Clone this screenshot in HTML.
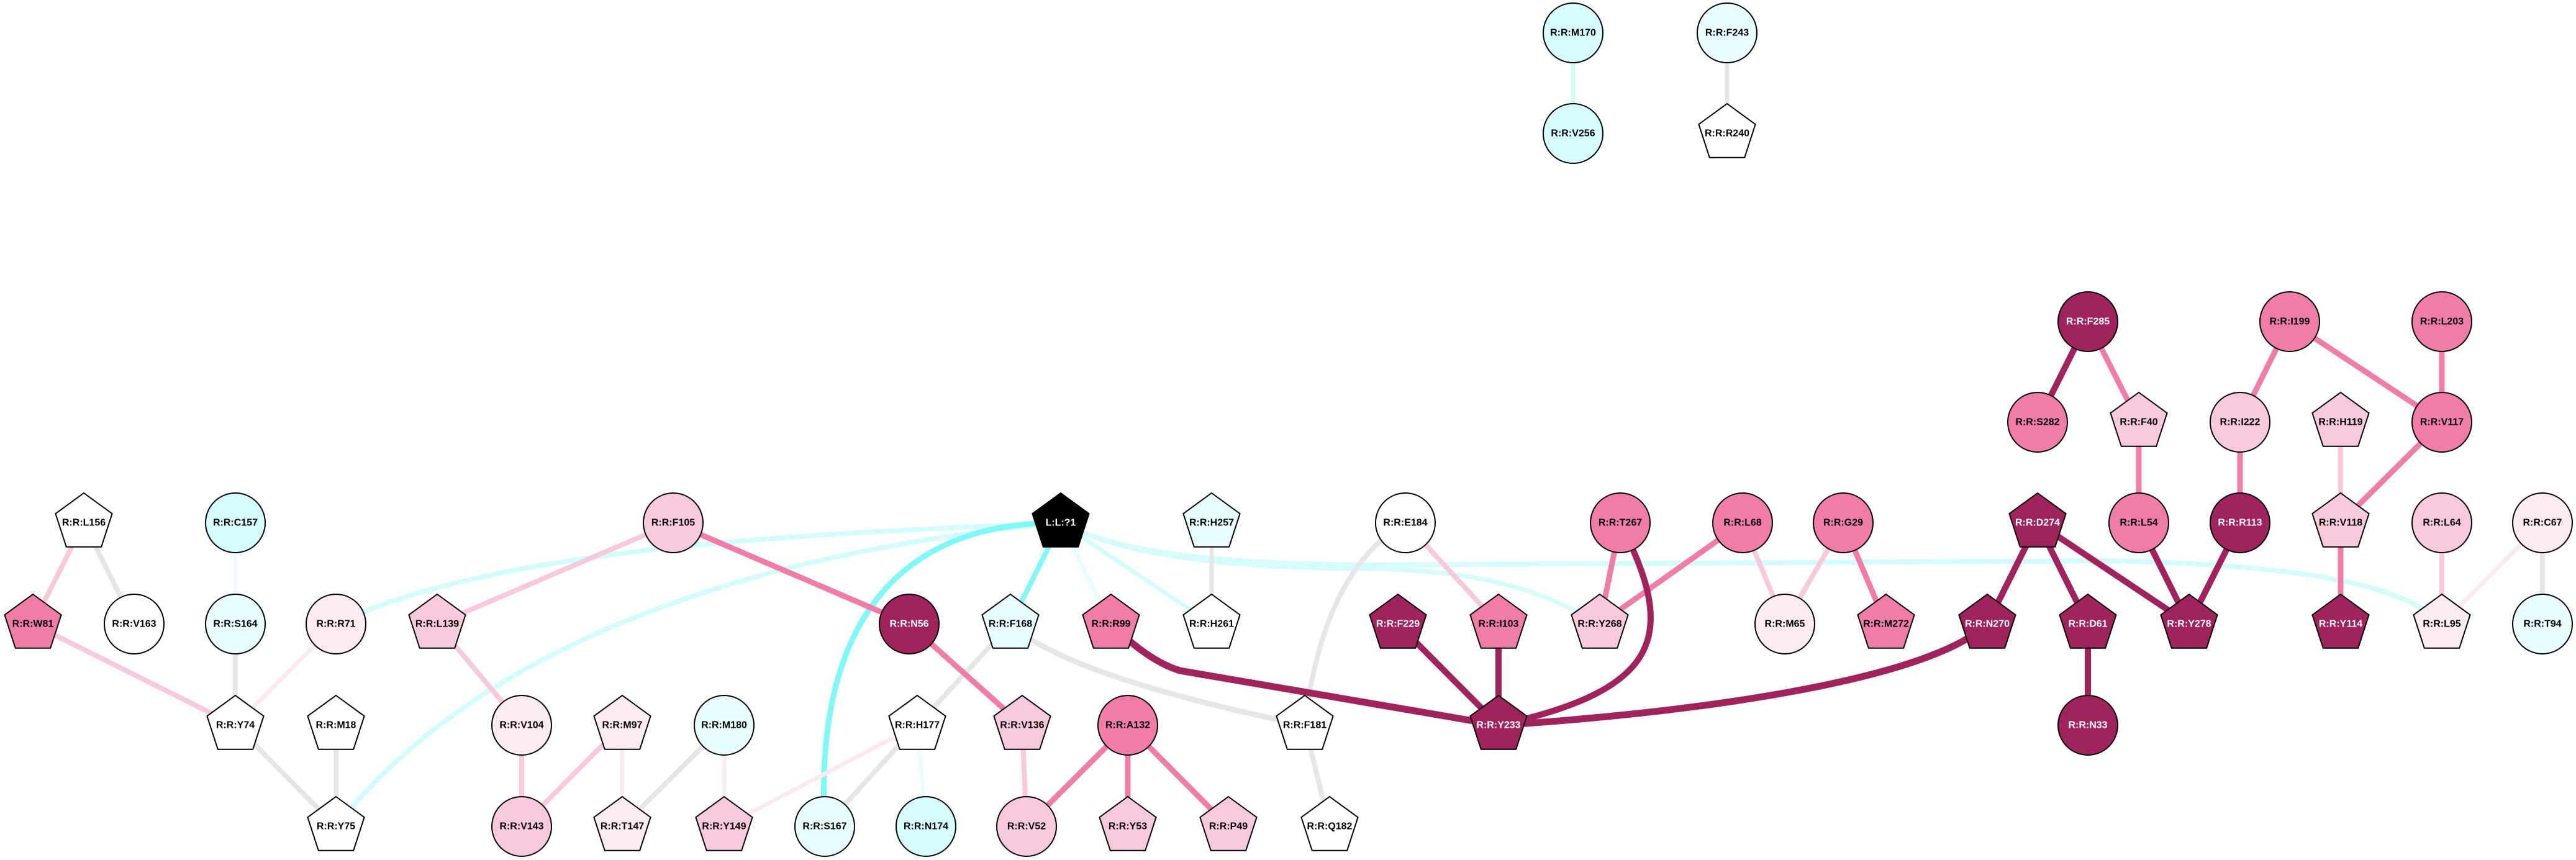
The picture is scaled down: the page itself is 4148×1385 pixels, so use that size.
<!DOCTYPE html>
<html><head><meta charset="utf-8"><style>
html,body{margin:0;padding:0;background:#fff;}
svg{display:block;}
text{font-family:"Liberation Sans",Arial,sans-serif;font-weight:bold;font-size:16px;text-anchor:middle;dominant-baseline:central;}
</style></head><body>
<svg width="4148" height="1385" viewBox="0 0 4148 1385" xmlns="http://www.w3.org/2000/svg">
<defs>
<polygon id="p" points="0,-48 45.6,-14.8 28.2,38.8 -28.2,38.8 -45.6,-14.8" stroke="#000" stroke-width="2"/>
</defs>
<g fill="none" stroke-linecap="butt">
<!-- top -->
<line x1="2533" y1="53" x2="2533" y2="215" stroke="#d4fcfc" stroke-width="7"/>
<line x1="2781" y1="53" x2="2781" y2="215" stroke="#e6e6e6" stroke-width="7"/>
<!-- cyan curves from ligand -->
<path d="M1708,842 C1300,860 800,880 541,1005" stroke="#d4fcfc" stroke-width="8"/>
<path d="M1708,842 C1300,880 800,1000 541,1331" stroke="#d4fcfc" stroke-width="8"/>
<path d="M1708,842 C1800,890 1950,908 2200,910 L3400,903 C3700,910 3870,940 3932,1005" stroke="#d4fcfc" stroke-width="8"/>
<path d="M1708,842 C1800,890 1950,915 2200,916 C2400,917 2500,960 2576,1005" stroke="#d4fcfc" stroke-width="7"/>
<path d="M1708,842 C1450,840 1310,1000 1328,1331" stroke="#80f8f8" stroke-width="9"/>
<line x1="1708" y1="842" x2="1627" y2="1005" stroke="#80f8f8" stroke-width="8"/>
<line x1="1708" y1="842" x2="1789" y2="1005" stroke="#e8fdfd" stroke-width="7"/>
<line x1="1708" y1="842" x2="1951" y2="1005" stroke="#d4fcfc" stroke-width="7"/>
<!-- left cluster -->
<line x1="135" y1="842" x2="53" y2="1005" stroke="#f8c8dc" stroke-width="8"/>
<line x1="135" y1="842" x2="216" y2="1005" stroke="#e6e6e6" stroke-width="8"/>
<line x1="379" y1="842" x2="379" y2="1005" stroke="#e8fdfd" stroke-width="5"/>
<line x1="53" y1="1005" x2="379" y2="1168" stroke="#f8c8dc" stroke-width="8"/>
<line x1="379" y1="1005" x2="379" y2="1168" stroke="#e6e6e6" stroke-width="8"/>
<line x1="541" y1="1005" x2="379" y2="1168" stroke="#fbe9f1" stroke-width="7"/>
<line x1="379" y1="1168" x2="541" y2="1331" stroke="#e6e6e6" stroke-width="8"/>
<line x1="541" y1="1168" x2="541" y2="1331" stroke="#e6e6e6" stroke-width="8"/>
<line x1="1084" y1="842" x2="704" y2="1005" stroke="#f8c8dc" stroke-width="8"/>
<line x1="704" y1="1005" x2="840" y2="1168" stroke="#f8c8dc" stroke-width="8"/>
<line x1="840" y1="1168" x2="840" y2="1331" stroke="#f8c8dc" stroke-width="8"/>
<line x1="1002" y1="1168" x2="840" y2="1331" stroke="#f8c8dc" stroke-width="8"/>
<line x1="1002" y1="1168" x2="1002" y2="1331" stroke="#fbe9f1" stroke-width="7"/>
<line x1="1166" y1="1168" x2="1002" y2="1331" stroke="#e6e6e6" stroke-width="8"/>
<line x1="1166" y1="1168" x2="1166" y2="1331" stroke="#fbe9f1" stroke-width="7"/>
<line x1="1477" y1="1168" x2="1166" y2="1331" stroke="#fbe9f1" stroke-width="7"/>
<line x1="1477" y1="1168" x2="1328" y2="1331" stroke="#e6e6e6" stroke-width="8"/>
<line x1="1477" y1="1168" x2="1491" y2="1331" stroke="#e8fdfd" stroke-width="6"/>
<line x1="1627" y1="1005" x2="1477" y2="1168" stroke="#e6e6e6" stroke-width="8"/>
<line x1="1084" y1="842" x2="1464" y2="1005" stroke="#f07ca8" stroke-width="9"/>
<line x1="1464" y1="1005" x2="1646" y2="1168" stroke="#f07ca8" stroke-width="9"/>
<line x1="1646" y1="1168" x2="1653" y2="1331" stroke="#f8c8dc" stroke-width="8"/>
<line x1="1816" y1="1168" x2="1653" y2="1331" stroke="#f07ca8" stroke-width="9"/>
<line x1="1816" y1="1168" x2="1816" y2="1331" stroke="#f07ca8" stroke-width="9"/>
<line x1="1816" y1="1168" x2="1978" y2="1331" stroke="#f07ca8" stroke-width="9"/>
<path d="M1627,1005 Q1720,1090 2101,1168" stroke="#e6e6e6" stroke-width="9"/>
<path d="M2263,842 Q2130,920 2101,1168" stroke="#e6e6e6" stroke-width="8"/>
<line x1="2101" y1="1168" x2="2141" y2="1331" stroke="#e6e6e6" stroke-width="8"/>
<line x1="1951" y1="842" x2="1951" y2="1005" stroke="#e6e6e6" stroke-width="7"/>
<!-- middle -->
<line x1="2263" y1="842" x2="2413" y2="1005" stroke="#f8c8dc" stroke-width="8"/>
<line x1="2609" y1="842" x2="2576" y2="1005" stroke="#f07ca8" stroke-width="9"/>
<line x1="2806" y1="842" x2="2576" y2="1005" stroke="#f07ca8" stroke-width="9"/>
<line x1="2806" y1="842" x2="2874" y2="1005" stroke="#f8c8dc" stroke-width="8"/>
<line x1="2968" y1="842" x2="2874" y2="1005" stroke="#f8c8dc" stroke-width="8"/>
<line x1="2968" y1="842" x2="3037" y2="1005" stroke="#f07ca8" stroke-width="9"/>
<path d="M1789,1005 Q1850,1065 1900,1080 L2413,1168" stroke="#a1235e" stroke-width="11"/>
<line x1="2251" y1="1005" x2="2413" y2="1168" stroke="#a1235e" stroke-width="10"/>
<line x1="2413" y1="1005" x2="2413" y2="1168" stroke="#a1235e" stroke-width="10"/>
<path d="M2609,842 C2700,1020 2680,1110 2413,1168" stroke="#a1235e" stroke-width="10"/>
<path d="M3200,1005 C3100,1100 2700,1150 2413,1168" stroke="#a1235e" stroke-width="11"/>
<!-- right -->
<line x1="3362" y1="518" x2="3281" y2="680" stroke="#a1235e" stroke-width="10"/>
<line x1="3362" y1="518" x2="3444" y2="680" stroke="#f07ca8" stroke-width="9"/>
<line x1="3444" y1="680" x2="3444" y2="842" stroke="#f07ca8" stroke-width="9"/>
<line x1="3687" y1="518" x2="3607" y2="680" stroke="#f07ca8" stroke-width="9"/>
<line x1="3687" y1="518" x2="3932" y2="680" stroke="#f07ca8" stroke-width="9"/>
<line x1="3932" y1="518" x2="3932" y2="680" stroke="#f07ca8" stroke-width="9"/>
<line x1="3607" y1="680" x2="3607" y2="842" stroke="#f07ca8" stroke-width="9"/>
<line x1="3769" y1="680" x2="3769" y2="842" stroke="#f8c8dc" stroke-width="8"/>
<line x1="3932" y1="680" x2="3769" y2="842" stroke="#f07ca8" stroke-width="9"/>
<line x1="3769" y1="842" x2="3769" y2="1005" stroke="#f07ca8" stroke-width="9"/>
<line x1="3281" y1="842" x2="3200" y2="1005" stroke="#a1235e" stroke-width="10"/>
<line x1="3281" y1="842" x2="3362" y2="1005" stroke="#a1235e" stroke-width="10"/>
<line x1="3281" y1="842" x2="3525" y2="1005" stroke="#a1235e" stroke-width="10"/>
<line x1="3444" y1="842" x2="3525" y2="1005" stroke="#a1235e" stroke-width="10"/>
<line x1="3607" y1="842" x2="3525" y2="1005" stroke="#a1235e" stroke-width="10"/>
<line x1="3362" y1="1005" x2="3362" y2="1168" stroke="#a1235e" stroke-width="10"/>
<line x1="3932" y1="842" x2="3932" y2="1005" stroke="#f8c8dc" stroke-width="8"/>
<line x1="4094" y1="842" x2="3932" y2="1005" stroke="#fbe9f1" stroke-width="7"/>
<line x1="4094" y1="842" x2="4094" y2="1005" stroke="#e6e6e6" stroke-width="8"/>
</g>
<g stroke="#000" stroke-width="2">
<!-- circles -->
<circle cx="2533" cy="53" r="48" fill="#d4fcfc"/>
<circle cx="2533" cy="215" r="48" fill="#d4fcfc"/>
<circle cx="2781" cy="53" r="48" fill="#e8fdfd"/>
<circle cx="379" cy="842" r="48" fill="#d4fcfc"/>
<circle cx="216" cy="1005" r="48" fill="#fff"/>
<circle cx="379" cy="1005" r="48" fill="#e8fdfd"/>
<circle cx="541" cy="1005" r="48" fill="#fbeaf2"/>
<circle cx="840" cy="1168" r="48" fill="#fbeaf2"/>
<circle cx="840" cy="1331" r="48" fill="#f8c8dc"/>
<circle cx="1084" cy="842" r="48" fill="#f8c8dc"/>
<circle cx="1464" cy="1005" r="48" fill="#a1235e"/>
<circle cx="1166" cy="1168" r="48" fill="#e8fdfd"/>
<circle cx="1816" cy="1168" r="48" fill="#f07ca8"/>
<circle cx="1328" cy="1331" r="48" fill="#e8fdfd"/>
<circle cx="1491" cy="1331" r="48" fill="#d4fcfc"/>
<circle cx="1653" cy="1331" r="48" fill="#f8c8dc"/>
<circle cx="2263" cy="842" r="48" fill="#fff"/>
<circle cx="2609" cy="842" r="48" fill="#f07ca8"/>
<circle cx="2806" cy="842" r="48" fill="#f07ca8"/>
<circle cx="2968" cy="842" r="48" fill="#f07ca8"/>
<circle cx="2874" cy="1005" r="48" fill="#fbeaf2"/>
<circle cx="3362" cy="518" r="48" fill="#a1235e"/>
<circle cx="3687" cy="518" r="48" fill="#f07ca8"/>
<circle cx="3932" cy="518" r="48" fill="#f07ca8"/>
<circle cx="3281" cy="680" r="48" fill="#f07ca8"/>
<circle cx="3607" cy="680" r="48" fill="#f8c8dc"/>
<circle cx="3932" cy="680" r="48" fill="#f07ca8"/>
<circle cx="3444" cy="842" r="48" fill="#f07ca8"/>
<circle cx="3607" cy="842" r="48" fill="#a1235e"/>
<circle cx="3932" cy="842" r="48" fill="#f8c8dc"/>
<circle cx="4094" cy="842" r="48" fill="#fbeaf2"/>
<circle cx="4094" cy="1005" r="48" fill="#e8fdfd"/>
<circle cx="3362" cy="1168" r="48" fill="#a1235e"/>
</g>
<!-- pentagons -->
<use href="#p" x="2781" y="215" fill="#fff"/>
<use href="#p" x="135" y="842" fill="#fff"/>
<use href="#p" x="53" y="1005" fill="#f07ca8"/>
<use href="#p" x="704" y="1005" fill="#f8c8dc"/>
<use href="#p" x="379" y="1168" fill="#fff"/>
<use href="#p" x="541" y="1168" fill="#fff"/>
<use href="#p" x="541" y="1331" fill="#fff"/>
<use href="#p" x="1002" y="1168" fill="#fbeaf2"/>
<use href="#p" x="1002" y="1331" fill="#fbeaf2"/>
<use href="#p" x="1708" y="842" fill="#000"/>
<use href="#p" x="1951" y="842" fill="#e8fdfd"/>
<use href="#p" x="1627" y="1005" fill="#e8fdfd"/>
<use href="#p" x="1789" y="1005" fill="#f07ca8"/>
<use href="#p" x="1951" y="1005" fill="#fff"/>
<use href="#p" x="1477" y="1168" fill="#fff"/>
<use href="#p" x="1646" y="1168" fill="#f8c8dc"/>
<use href="#p" x="2101" y="1168" fill="#fff"/>
<use href="#p" x="1166" y="1331" fill="#f8c8dc"/>
<use href="#p" x="1816" y="1331" fill="#f8c8dc"/>
<use href="#p" x="1978" y="1331" fill="#f8c8dc"/>
<use href="#p" x="2141" y="1331" fill="#fff"/>
<use href="#p" x="2251" y="1005" fill="#a1235e"/>
<use href="#p" x="2413" y="1005" fill="#f07ca8"/>
<use href="#p" x="2576" y="1005" fill="#f8c8dc"/>
<use href="#p" x="3037" y="1005" fill="#f07ca8"/>
<use href="#p" x="2413" y="1168" fill="#a1235e"/>
<use href="#p" x="3444" y="680" fill="#f8c8dc"/>
<use href="#p" x="3769" y="680" fill="#f8c8dc"/>
<use href="#p" x="3281" y="842" fill="#a1235e"/>
<use href="#p" x="3769" y="842" fill="#f8c8dc"/>
<use href="#p" x="3200" y="1005" fill="#a1235e"/>
<use href="#p" x="3362" y="1005" fill="#a1235e"/>
<use href="#p" x="3525" y="1005" fill="#a1235e"/>
<use href="#p" x="3769" y="1005" fill="#a1235e"/>
<use href="#p" x="3932" y="1005" fill="#fbeaf2"/>
<g fill="#000">
<text x="2533" y="53">R:R:M170</text>
<text x="2533" y="215">R:R:V256</text>
<text x="2781" y="53">R:R:F243</text>
<text x="2781" y="215">R:R:R240</text>
<text x="135" y="842">R:R:L156</text>
<text x="379" y="842">R:R:C157</text>
<text x="53" y="1005">R:R:W81</text>
<text x="216" y="1005">R:R:V163</text>
<text x="379" y="1005">R:R:S164</text>
<text x="541" y="1005">R:R:R71</text>
<text x="704" y="1005">R:R:L139</text>
<text x="379" y="1168">R:R:Y74</text>
<text x="541" y="1168">R:R:M18</text>
<text x="541" y="1331">R:R:Y75</text>
<text x="840" y="1168">R:R:V104</text>
<text x="1002" y="1168">R:R:M97</text>
<text x="840" y="1331">R:R:V143</text>
<text x="1002" y="1331">R:R:T147</text>
<text x="1084" y="842">R:R:F105</text>
<text x="1951" y="842">R:R:H257</text>
<text x="1627" y="1005">R:R:F168</text>
<text x="1789" y="1005">R:R:R99</text>
<text x="1951" y="1005">R:R:H261</text>
<text x="1166" y="1168">R:R:M180</text>
<text x="1477" y="1168">R:R:H177</text>
<text x="1646" y="1168">R:R:V136</text>
<text x="1816" y="1168">R:R:A132</text>
<text x="2101" y="1168">R:R:F181</text>
<text x="1166" y="1331">R:R:Y149</text>
<text x="1328" y="1331">R:R:S167</text>
<text x="1491" y="1331">R:R:N174</text>
<text x="1653" y="1331">R:R:V52</text>
<text x="1816" y="1331">R:R:Y53</text>
<text x="1978" y="1331">R:R:P49</text>
<text x="2141" y="1331">R:R:Q182</text>
<text x="2263" y="842">R:R:E184</text>
<text x="2609" y="842">R:R:T267</text>
<text x="2806" y="842">R:R:L68</text>
<text x="2968" y="842">R:R:G29</text>
<text x="2413" y="1005">R:R:I103</text>
<text x="2576" y="1005">R:R:Y268</text>
<text x="2874" y="1005">R:R:M65</text>
<text x="3037" y="1005">R:R:M272</text>
<text x="3687" y="518">R:R:I199</text>
<text x="3932" y="518">R:R:L203</text>
<text x="3281" y="680">R:R:S282</text>
<text x="3444" y="680">R:R:F40</text>
<text x="3607" y="680">R:R:I222</text>
<text x="3769" y="680">R:R:H119</text>
<text x="3932" y="680">R:R:V117</text>
<text x="3444" y="842">R:R:L54</text>
<text x="3769" y="842">R:R:V118</text>
<text x="3932" y="842">R:R:L64</text>
<text x="4094" y="842">R:R:C67</text>
<text x="3932" y="1005">R:R:L95</text>
<text x="4094" y="1005">R:R:T94</text>
</g>
<g fill="#fff">
<text x="1708" y="842">L:L:?1</text>
<text x="1464" y="1005">R:R:N56</text>
<text x="2251" y="1005">R:R:F229</text>
<text x="2413" y="1168">R:R:Y233</text>
<text x="3362" y="518">R:R:F285</text>
<text x="3281" y="842">R:R:D274</text>
<text x="3607" y="842">R:R:R113</text>
<text x="3200" y="1005">R:R:N270</text>
<text x="3362" y="1005">R:R:D61</text>
<text x="3525" y="1005">R:R:Y278</text>
<text x="3769" y="1005">R:R:Y114</text>
<text x="3362" y="1168">R:R:N33</text>
</g>
</svg>
</body></html>
